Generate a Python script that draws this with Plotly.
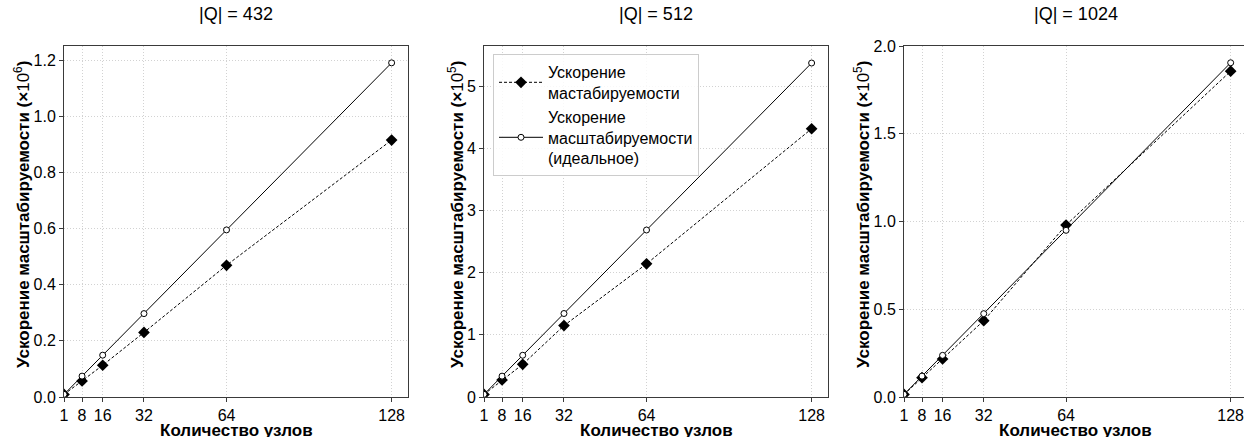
import plotly.graph_objects as go

nodes = [1, 8, 16, 32, 64, 128]
x_tick_labels = ["1", "8", "16", "32", "64", "128"]

q432_actual = [0.009, 0.057, 0.113, 0.230, 0.469, 0.915]
q432_ideal = [0.0093, 0.0744, 0.149, 0.297, 0.595, 1.19]
q512_actual = [0.042, 0.274, 0.526, 1.149, 2.143, 4.318]
q512_ideal = [0.042, 0.336, 0.672, 1.344, 2.688, 5.376]
q1024_actual = [0.0145, 0.110, 0.2165, 0.435, 0.980, 1.857]
q1024_ideal = [0.0149, 0.119, 0.2375, 0.475, 0.950, 1.905]

titles = ["|Q| = 432", "|Q| = 512", "|Q| = 1024"]
y_exponents = ["6", "5", "5"]
y_title_main = "Ускорение масштабируемости"
y_ticks = [
    [0.0, 0.2, 0.4, 0.6, 0.8, 1.0, 1.2],
    [0, 1, 2, 3, 4, 5],
    [0.0, 0.5, 1.0, 1.5, 2.0],
]
y_tick_labels = [
    ["0.0", "0.2", "0.4", "0.6", "0.8", "1.0", "1.2"],
    ["0", "1", "2", "3", "4", "5"],
    ["0.0", "0.5", "1.0", "1.5", "2.0"],
]
legend_actual = "Ускорение<br>мастабируемости"
legend_ideal = "Ускорение<br>масштабируемости<br>(идеальное)"
x_title = "Количество узлов"

W, H = 1250, 437        # figure slightly wider than the 1244 window; right panel runs past it
FONT = "Liberation Sans, Arial, sans-serif"
FRAME = "#3a3a3a"
GRID = "#d2d2d2"

actual_sets = [q432_actual, q512_actual, q1024_actual]
ideal_sets = [q432_ideal, q512_ideal, q1024_ideal]

# pixel layout of the three panels
px_left = [64, 484, 904]
px_right = [408, 828, 1247]
x_range = [1, 134.35]
y_ranges = [[0, 1.25], [0, 5.65], [0, 2.0005]]
top_px, bottom_px = 46, 397
ydom = [1 - bottom_px / H, 1 - top_px / H]

fig = go.Figure()
layout = dict(
    width=W, height=H,
    margin=dict(l=0, r=0, t=0, b=0),
    paper_bgcolor="white", plot_bgcolor="white",
    font=dict(family=FONT, size=16, color="black"),
    showlegend=True,
    legend=dict(
        x=493 / W, y=1 - 54 / H, xanchor="left", yanchor="top",
        bgcolor="rgba(255,255,255,0.85)", bordercolor="#cccccc", borderwidth=1,
        font=dict(family=FONT, size=16, color="black"),
        tracegroupgap=0, itemwidth=44,
    ),
)
annotations = []

for i in range(3):
    sfx = "" if i == 0 else str(i + 1)
    xa, ya = "x" + sfx, "y" + sfx
    fig.add_trace(go.Scatter(
        x=nodes, y=actual_sets[i], xaxis=xa, yaxis=ya,
        mode="lines+markers", name=legend_actual, showlegend=(i == 1),
        line=dict(color="black", width=1, dash="3px,2px"),
        marker=dict(symbol="diamond", size=9, color="black"),
    ))
    fig.add_trace(go.Scatter(
        x=nodes, y=ideal_sets[i], xaxis=xa, yaxis=ya,
        mode="lines+markers", name=legend_ideal, showlegend=(i == 1),
        line=dict(color="black", width=1),
        marker=dict(symbol="circle", size=6, color="white",
                    line=dict(color="black", width=1)),
    ))
    layout["xaxis" + sfx] = dict(
        domain=[px_left[i] / W, px_right[i] / W], anchor=ya,
        range=x_range, tickvals=nodes, ticktext=x_tick_labels,
        showline=True, linecolor=FRAME, linewidth=1, mirror=True,
        ticks="outside", ticklen=4, tickcolor=FRAME,
        showgrid=True, gridcolor=GRID, griddash="1px,2px", gridwidth=1,
        zeroline=False, tickfont=dict(size=16), automargin=False,
        ticklabeloverflow="allow",
    )
    layout["yaxis" + sfx] = dict(
        domain=ydom, anchor=xa,
        range=y_ranges[i], tickvals=y_ticks[i], ticktext=y_tick_labels[i],
        showline=True, linecolor=FRAME, linewidth=1, mirror=True,
        ticks="outside", ticklen=4, tickcolor=FRAME,
        showgrid=True, gridcolor=GRID, griddash="1px,2px", gridwidth=1,
        zeroline=False, tickfont=dict(size=16), automargin=False,
        ticklabeloverflow="allow",
    )
    cx = (px_left[i] + px_right[i]) / 2
    annotations.append(dict(
        text=titles[i], x=cx / W, y=1 - 14 / H, xref="paper", yref="paper",
        xanchor="center", yanchor="middle", showarrow=False,
        font=dict(size=18, family=FONT),
    ))
    annotations.append(dict(
        text="<b>" + x_title + "</b>", x=cx / W, y=1 - 430 / H,
        xref="paper", yref="paper", xanchor="center", yanchor="middle",
        showarrow=False, font=dict(size=17, family=FONT),
    ))
    ycx = [22, 456, 862][i]
    ytxt = ("<b>" + y_title_main + " (×</b>10<sup>" + y_exponents[i]
            + "</sup><b>)</b>")
    annotations.append(dict(
        text=ytxt, x=ycx / W,
        y=1 - 215 / H,
        xref="paper", yref="paper", xanchor="center", yanchor="middle",
        textangle=-90, showarrow=False, font=dict(size=17, family=FONT),
    ))

layout["annotations"] = annotations
fig.update_layout(**layout)
fig.write_html("out.html", config={"displayModeBar": False})

# remove the default page margin so the figure sits at the window's corner
with open("out.html", "r", encoding="utf-8") as f:
    html = f.read()
html = html.replace("<head>", "<head><style>html,body{margin:0;padding:0;overflow:hidden;}</style>", 1)
with open("out.html", "w", encoding="utf-8") as f:
    f.write(html)
